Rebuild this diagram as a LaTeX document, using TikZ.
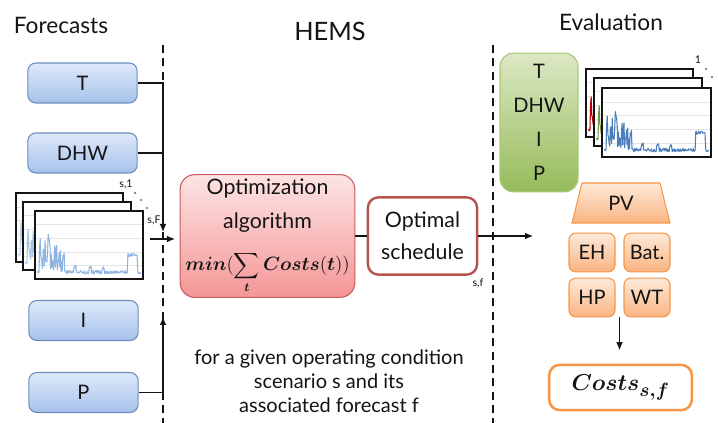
\documentclass[tikz,border=0pt]{standalone}
\usepackage{amsmath,amssymb}
\usepackage{fontspec}
\setmainfont{Lato}
\usetikzlibrary{arrows.meta,calc}
\definecolor{ink}{RGB}{20,20,20}
\definecolor{fcline}{RGB}{108,142,191}
\definecolor{fctop}{RGB}{222,233,250}
\definecolor{fcbot}{RGB}{166,194,235}
\definecolor{optline}{RGB}{200,90,90}
\definecolor{opttop}{RGB}{253,228,228}
\definecolor{optbot}{RGB}{244,150,150}
\definecolor{schedline}{RGB}{184,84,80}
\definecolor{evline}{RGB}{170,200,120}
\definecolor{evtop}{RGB}{220,232,196}
\definecolor{evbot}{RGB}{150,187,90}
\definecolor{hwline}{RGB}{247,150,70}
\definecolor{hwtop}{RGB}{253,233,217}
\definecolor{hwbot}{RGB}{250,180,130}
\definecolor{curvesoft}{RGB}{141,180,226}
\definecolor{curvedark}{RGB}{74,126,187}
\definecolor{curvered}{RGB}{192,0,0}
\definecolor{curvegreen}{RGB}{118,146,60}

% load profile in a frame: x0, y0 (top), width, height, colour, frame width
\newcommand{\loadchart}[6]{%
  \pgfmathsetmacro{\cw}{#3*0.75}\pgfmathsetmacro{\ch}{#4*0.75}%
  \begin{scope}[shift={(#1,#2+#4)}, x=\cw pt, y=\ch pt]
    \fill[white] (0,0) rectangle (1,1);
    \foreach \g in {0.2,0.4,...,0.8} \draw[black!10, line width=0.4pt] (0,\g) -- (1,\g);
    \begin{scope}
      \clip (0,0) rectangle (1,1);
      \pgfmathsetseed{11}
      \draw[#5, line width=0.8pt, line join=round] plot[domain=0.02:0.98, samples=170, variable=\t]
        (\t, {0.1 + 0.025*rand + and(\t>0.04,\t<0.27)*0.75*rnd*(1.15-2.8*\t)
          + and(\t>0.86,\t<0.95)*0.25 + and(\t>0.36,\t<0.38)*0.08 + and(\t>0.5,\t<0.52)*0.07
          + and(\t>0.62,\t<0.64)*0.06});
    \end{scope}
    \draw[ink, line width=#6] (0,0) rectangle (1,1);
  \end{scope}}

\begin{document}
\begin{tikzpicture}[x=0.75pt, y=-0.75pt, font=\fontsize{15}{17}\selectfont, text=ink,
  title/.style={font=\fontsize{17}{20}\selectfont},
  fcbox/.style={draw=fcline, line width=0.8pt, rounded corners=6pt, top color=fctop, bottom color=fcbot,
    minimum width=82pt, minimum height=30pt},
  hwbox/.style={draw=hwline, line width=0.8pt, rounded corners=5pt, top color=hwtop, bottom color=hwbot,
    minimum width=34.5pt, minimum height=29pt, inner sep=1pt},
  small/.style={font=\fontsize{8}{9}\selectfont, inner sep=1pt},
  sep/.style={ink, line width=1.6pt, dash pattern=on 6pt off 4pt},
  conn/.style={ink, line width=0.8pt},
  tip/.style={-{Latex[length=6pt, width=5pt]}}]
\useasboundingbox (0,0) rectangle (718,423);

% column titles
\node[title] (tfc) at (61,25) {Forecasts};
\node[title, font=\fontsize{19}{22}\selectfont] (thems) at (330,31) {HEMS};
\node[title] (tev) at (611,22) {Evaluation};

% separators
\coordinate (dashL) at (163,45);
\coordinate (dashR) at (493,45);
\draw[sep] (dashL) -- (163,423);
\draw[sep] (dashR) -- (493,423);

% forecast inputs
\node[fcbox] (T) at (82.5,83) {T};
\node[fcbox] (DHW) at (82.5,153) {DHW};
\node[fcbox] (I) at (83.5,320.5) {I};
\node[fcbox] (P) at (83.5,392.5) {P};

\loadchart{16}{193}{107}{69}{curvesoft!60}{1.5pt}
\loadchart{23}{202}{108}{68}{curvesoft!80}{1.5pt}
\loadchart{35}{211}{108}{68}{curvesoft}{1.5pt}
\node[small] (s1) at (126,184) {s,1};
\node[small] (sF) at (154,220) {s,F};
\foreach \p in {(135,193),(141,200),(147,208)} \fill[ink] \p circle (0.6pt);

% collecting the forecasts
\coordinate (downtip) at (163,232);
\coordinate (uptip) at (163,317);
\coordinate (feed) at (150,239);
\draw[conn, tip] (T.east) -- (T.east -| dashL) -- (downtip);
\draw[conn] (DHW.east) -- (DHW.east -| dashL);
\draw[conn, tip] (P.east) -- (P.east -| dashL) -- (uptip);

% optimisation
\node[draw=optline, line width=0.8pt, rounded corners=11pt, top color=opttop, bottom color=optbot,
  minimum width=131pt, minimum height=91.5pt, align=center, font=\fontsize{16}{25}\selectfont]
  (opt) at (267.5,236) {Optimization\\algorithm\\[7pt]
  {\fontsize{13.5}{15}\selectfont$\boldsymbol{min}(\displaystyle\sum_{\boldsymbol{t}}\boldsymbol{Costs}(\boldsymbol{t}))$}};
\draw[conn, tip, shorten >=3.5pt] (feed) -- (feed -| opt.west);

\node[draw=schedline, line width=1.8pt, rounded corners=8pt, fill=white,
  minimum width=82pt, minimum height=58pt, align=center, font=\fontsize{16}{24}\selectfont]
  (sched) at (422.5,236) {Optimal\\schedule};
\node[small] (sf) at (478,283) {s,f};
\draw[conn] (opt) -- (sched);
\coordinate (evtip) at (533,236);
\draw[conn, tip] (sched.east) -- (evtip);

\node[align=center, font=\fontsize{15}{18}\selectfont] (cond) at (329,381)
  {for a given operating condition\\scenario s and its\\associated forecast f};

% evaluation
\node[draw=evline, line width=0.8pt, rounded corners=10pt, top color=evtop, bottom color=evbot,
  minimum width=58.5pt, minimum height=104pt, align=center, font=\fontsize{15}{25.5}\selectfont]
  (meas) at (539,122.5) {T\\DHW\\I\\P};

\loadchart{586}{69}{107}{68}{curvered}{1.5pt}
\loadchart{594}{78}{108}{68}{curvegreen}{1.5pt}
\loadchart{602}{88}{109}{69}{curvedark}{2.2pt}
\node[small] (r1) at (698,60) {1};
\foreach \p in {(706,69),(712,77)} \fill[ink] \p circle (0.6pt);

\draw[draw=hwline, line width=0.8pt, top color=hwtop, bottom color=hwbot]
  (572,223) -- (582,183) -- (660,183) -- (670,223) -- cycle;
\node (PV) at (621,203) {PV};
\node[hwbox] (EH) at (592,252.5) {EH};
\node[hwbox] (Bat) at (647,252.5) {Bat.};
\node[hwbox] (HP) at (592,297.5) {HP};
\node[hwbox] (WT) at (647,297.5) {WT};

\node[draw=hwline, line width=1.9pt, rounded corners=8pt, fill=white,
  minimum width=107pt, minimum height=34pt, font=\fontsize{19}{21}\selectfont]
  (cost) at (620.5,387.5) {$\boldsymbol{Costs_{s,f}}$};
\coordinate (mid) at ($(HP.south)!0.5!(WT.south)$);
\draw[conn, tip, shorten >=10pt] (mid) -- (mid |- cost.north);
\end{tikzpicture}
\end{document}
